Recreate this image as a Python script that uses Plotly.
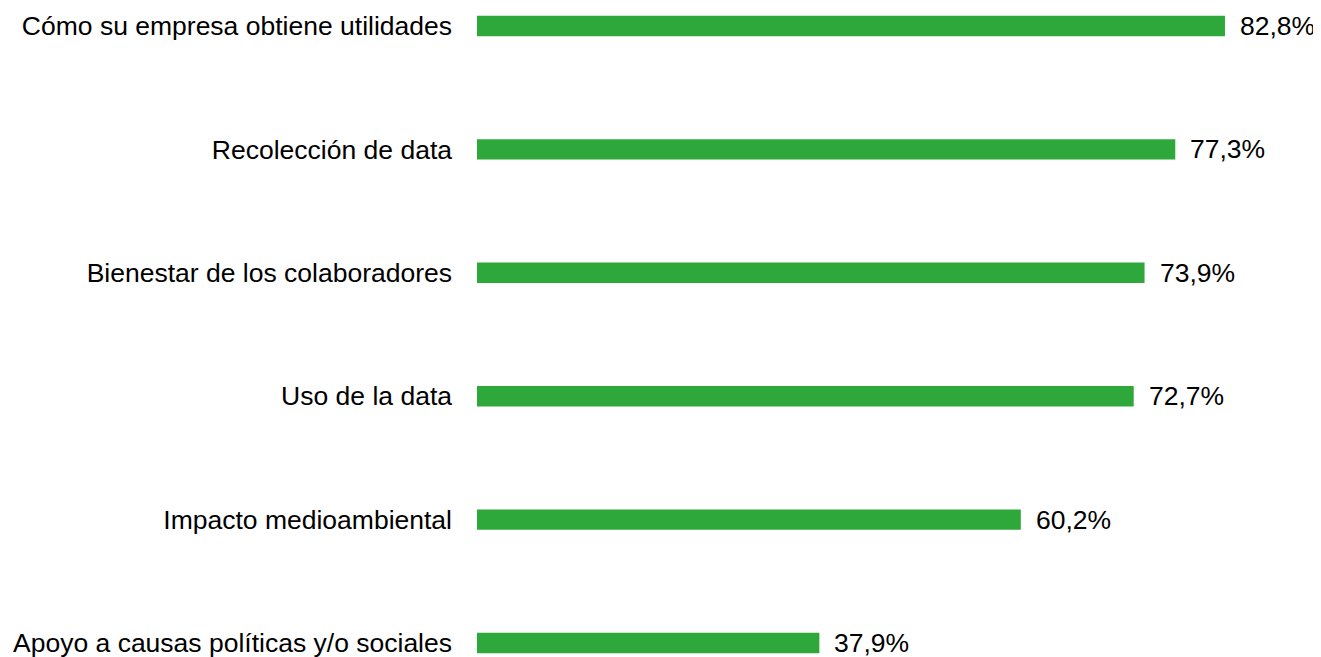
import plotly.graph_objects as go

categories = [
    "Apoyo a causas políticas y/o sociales",
    "Impacto medioambiental",
    "Uso de la data",
    "Bienestar de los colaboradores",
    "Recolección de data",
    "Cómo su empresa obtiene utilidades",
]
values = [37.9, 60.2, 72.7, 73.9, 77.3, 82.8]
value_labels = ["37,9%", "60,2%", "72,7%", "73,9%", "77,3%", "82,8%"]

FONT = "Liberation Sans, Arial, sans-serif"
GREEN = "#2ea83a"

fig = go.Figure(
    go.Bar(
        x=values,
        y=categories,
        orientation="h",
        marker=dict(color=GREEN, line=dict(width=0)),
        width=0.165,
        hoverinfo="skip",
    )
)

for c, v, t in zip(categories, values, value_labels):
    fig.add_annotation(
        x=v, y=c, text=t, xanchor="left", yanchor="middle",
        xshift=13, showarrow=False,
        font=dict(family=FONT, size=26.5, color="#000000"),
    )

fig.update_layout(
    width=1313,
    height=649,
    margin=dict(l=469, r=31, t=0, b=0, autoexpand=False),
    paper_bgcolor="white",
    plot_bgcolor="white",
    showlegend=False,
    font=dict(family=FONT, size=26.5, color="#000000"),
    xaxis=dict(range=[0, 90], visible=False, showgrid=False, zeroline=False),
    yaxis=dict(
        range=[-0.1135, 5.1459],
        showgrid=False,
        zeroline=False,
        showline=False,
        ticks="",
        ticklabelstandoff=24,
        tickfont=dict(family=FONT, size=26.5, color="#000000"),
        automargin=False,
    ),
)

fig.write_html("out.html")
